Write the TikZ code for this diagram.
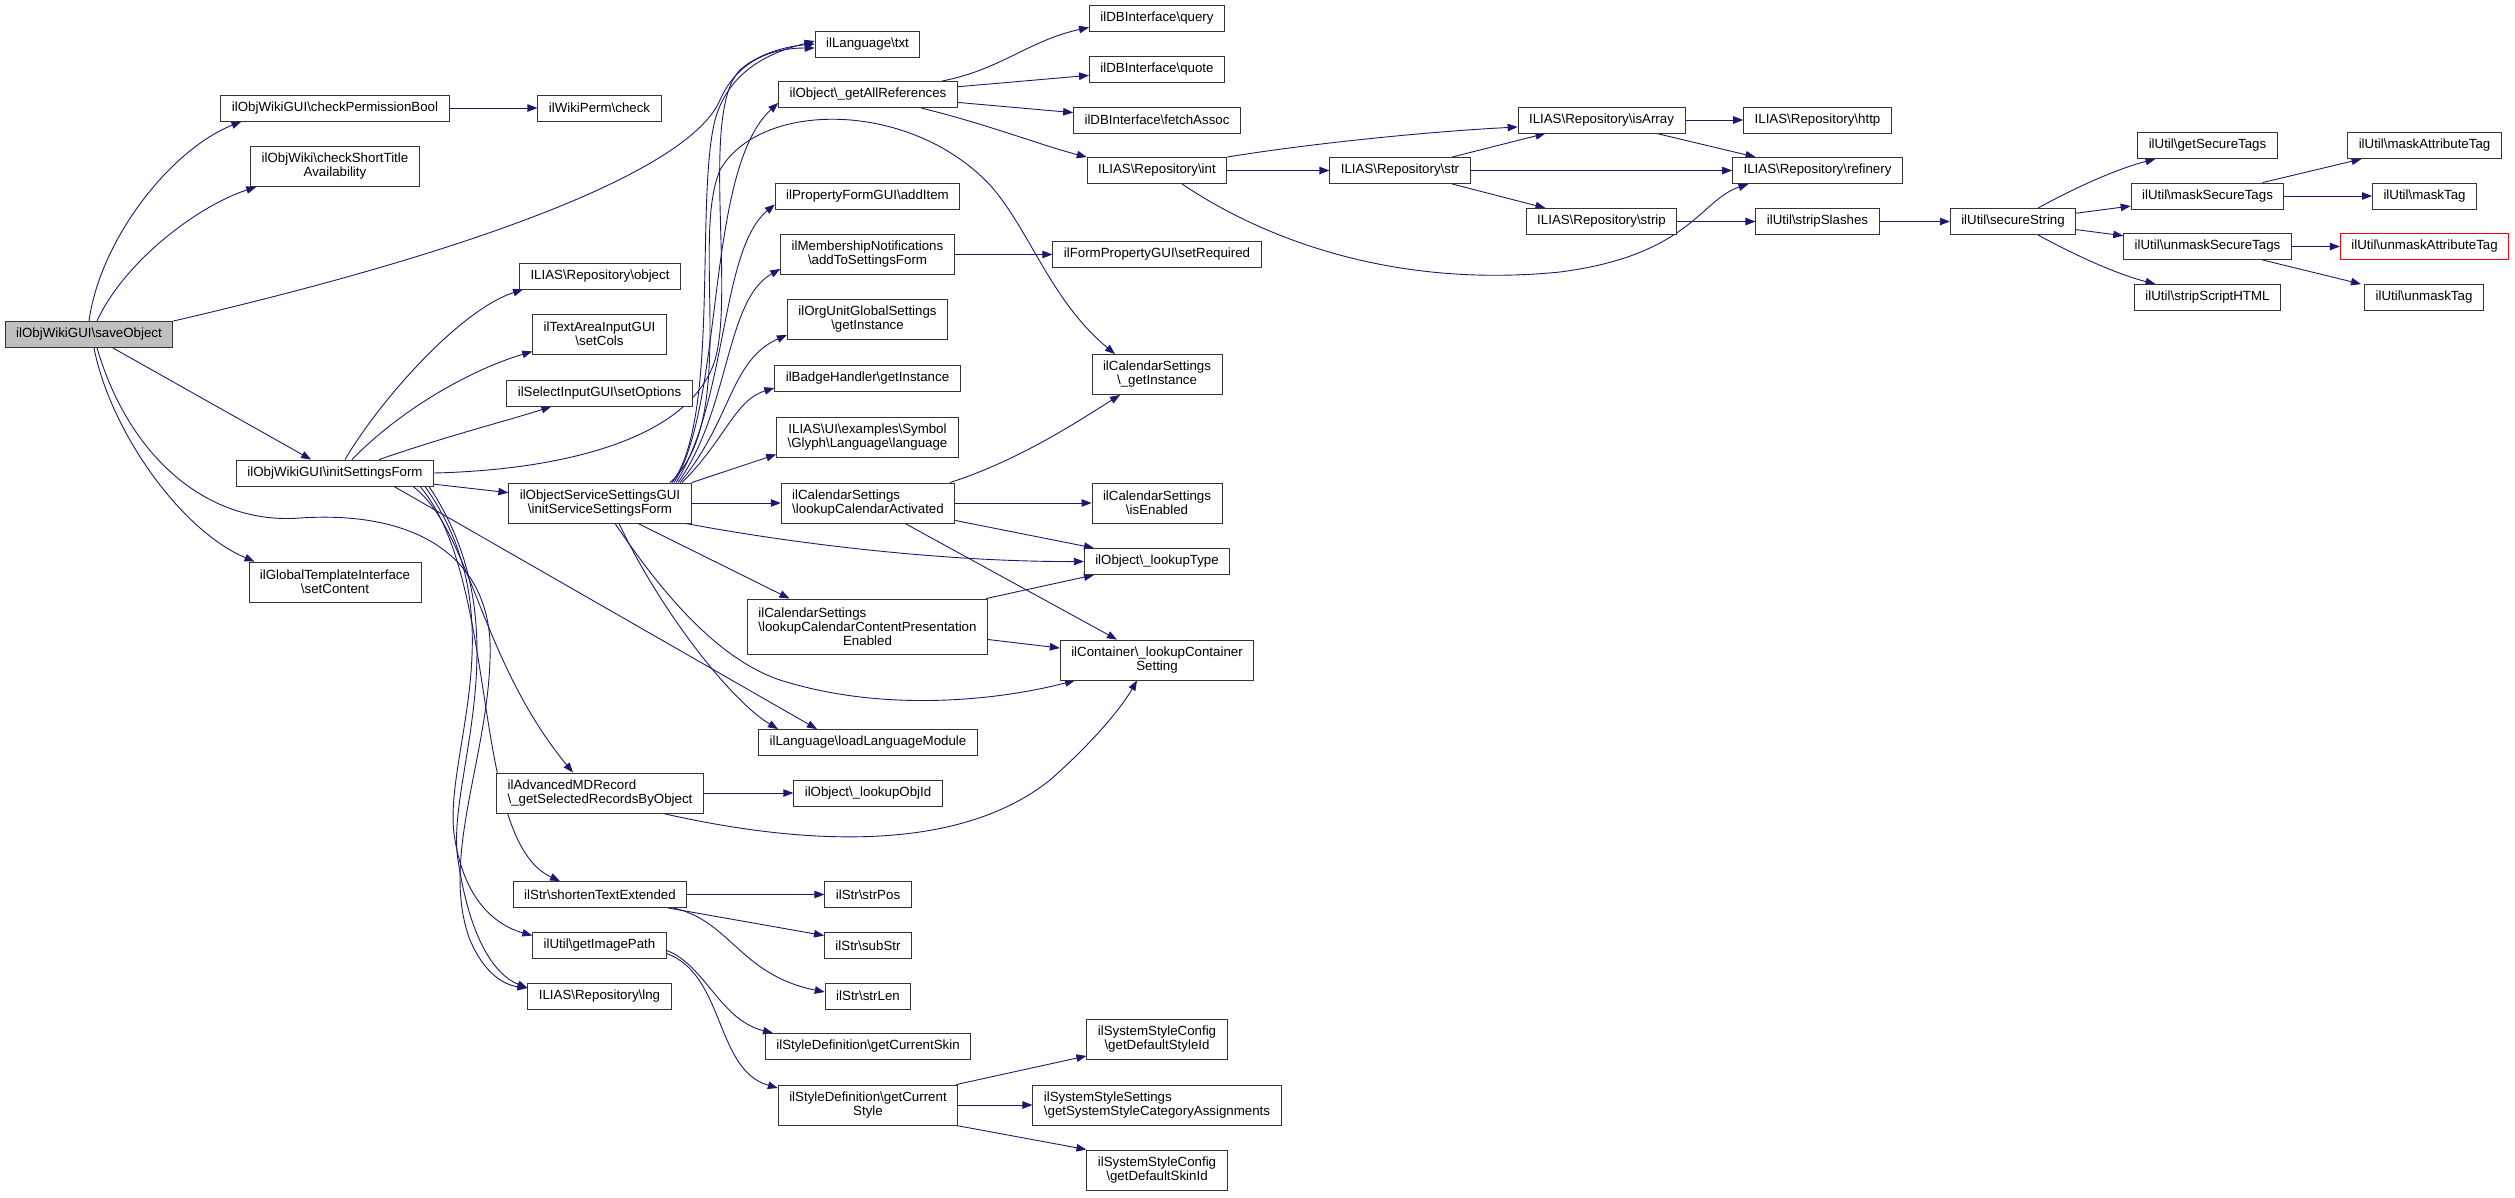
\documentclass[tikz,border=0pt]{standalone}
\usepackage{fontspec}
\setmainfont{Liberation Sans}
\usetikzlibrary{arrows.meta,backgrounds}
\definecolor{edgeblue}{RGB}{25,25,112}
\newcommand{\bsl}{\textbackslash}

\begin{document}
\begin{tikzpicture}[x=1pt,y=-1pt,
  fn/.style={draw=black!80,line width=0.9pt,fill=white,inner xsep=11pt,inner ysep=0pt,
    minimum height=26pt,font=\fontsize{13.3}{14}\selectfont},
  fn2/.style={fn,minimum height=40pt,align=center},
  fn2l/.style={fn,minimum height=40pt,align=left},
  call/.style={draw=edgeblue,line width=0.9pt,-{Triangle[length=10pt,width=7.5pt]}}]
  \useasboundingbox (0,0) rectangle (2515,1197);

  \node[fn,fill=black!25] (save) at (89,334.5) {ilObjWikiGUI\bsl saveObject};
  \node[fn] (perm) at (335,108) {ilObjWikiGUI\bsl checkPermissionBool};
  \node[fn] (wperm) at (599.5,108) {ilWikiPerm\bsl check};
  \node[fn2] (short) at (335,166.5) {ilObjWiki\bsl checkShortTitle\\Availability};
  \node[fn] (init) at (335,473) {ilObjWikiGUI\bsl initSettingsForm};
  \node[fn2] (tpl) at (335,582) {ilGlobalTemplateInterface\\\bsl setContent};

  \node[fn] (robj) at (600,276) {ILIAS\bsl Repository\bsl object};
  \node[fn2] (cols) at (599.5,334) {ilTextAreaInputGUI\\\bsl setCols};
  \node[fn] (opts) at (599.5,393) {ilSelectInputGUI\bsl setOptions};
  \node[fn2] (srv) at (600,503) {ilObjectServiceSettingsGUI\\\bsl initServiceSettingsForm};
  \node[fn2l] (amd) at (600,793) {ilAdvancedMDRecord\\\bsl\_getSelectedRecordsByObject};
  \node[fn] (shorten) at (600,894.5) {ilStr\bsl shortenTextExtended};
  \node[fn] (imgpath) at (599.5,945.5) {ilUtil\bsl getImagePath};
  \node[fn] (rlng) at (599.5,996) {ILIAS\bsl Repository\bsl lng};

  \node[fn] (txt) at (867.5,44) {ilLanguage\bsl txt};
  \node[fn] (allref) at (868,94.5) {ilObject\bsl\_getAllReferences};
  \node[fn] (additem) at (867.5,196) {ilPropertyFormGUI\bsl addItem};
  \node[fn2] (member) at (867.5,254.5) {ilMembershipNotifications\\\bsl addToSettingsForm};
  \node[fn2] (orgunit) at (867.5,319.5) {ilOrgUnitGlobalSettings\\\bsl getInstance};
  \node[fn] (badge) at (867.5,378.5) {ilBadgeHandler\bsl getInstance};
  \node[fn2] (glyph) at (867.5,437) {ILIAS\bsl UI\bsl examples\bsl Symbol\\\bsl Glyph\bsl Language\bsl language};
  \node[fn2l] (calact) at (868,503) {ilCalendarSettings\\\bsl lookupCalendarActivated};
  \node[fn,minimum height=55pt,align=left] (calcont) at (867.5,626.5)
    {ilCalendarSettings\\\bsl lookupCalendarContentPresentation\\\hspace*{\fill}Enabled\hspace*{\fill}};
  \node[fn] (loadlang) at (868,742.5) {ilLanguage\bsl loadLanguageModule};
  \node[fn] (objid) at (868,793) {ilObject\bsl\_lookupObjId};
  \node[fn] (strpos) at (868,894.5) {ilStr\bsl strPos};
  \node[fn] (substr) at (868,945.5) {ilStr\bsl subStr};
  \node[fn] (strlen) at (868,996) {ilStr\bsl strLen};
  \node[fn] (curskin) at (868,1046.5) {ilStyleDefinition\bsl getCurrentSkin};
  \node[fn2] (curstyle) at (868,1105) {ilStyleDefinition\bsl getCurrent\\Style};

  \node[fn] (query) at (1157,18) {ilDBInterface\bsl query};
  \node[fn] (quote) at (1157,69.5) {ilDBInterface\bsl quote};
  \node[fn] (fetch) at (1157,120) {ilDBInterface\bsl fetchAssoc};
  \node[fn] (rint) at (1157,170.5) {ILIAS\bsl Repository\bsl int};
  \node[fn] (setreq) at (1157,254.5) {ilFormPropertyGUI\bsl setRequired};
  \node[fn2] (calinst) at (1157,374.5) {ilCalendarSettings\\\bsl\_getInstance};
  \node[fn2] (calenabled) at (1157,503) {ilCalendarSettings\\\bsl isEnabled};
  \node[fn] (ltype) at (1157,561.5) {ilObject\bsl\_lookupType};
  \node[fn2] (contset) at (1157,660) {ilContainer\bsl\_lookupContainer\\Setting};
  \node[fn2] (defstyle) at (1157,1039.5) {ilSystemStyleConfig\\\bsl getDefaultStyleId};
  \node[fn2l] (catassign) at (1157,1105) {ilSystemStyleSettings\\\bsl getSystemStyleCategoryAssignments};
  \node[fn2] (defskin) at (1157,1170) {ilSystemStyleConfig\\\bsl getDefaultSkinId};

  \node[fn] (rstr) at (1400,170.5) {ILIAS\bsl Repository\bsl str};
  \node[fn] (isarr) at (1601.5,120) {ILIAS\bsl Repository\bsl isArray};
  \node[fn] (http) at (1817.5,120) {ILIAS\bsl Repository\bsl http};
  \node[fn] (refin) at (1817.5,170.5) {ILIAS\bsl Repository\bsl refinery};
  \node[fn] (rstrip) at (1601.5,221.5) {ILIAS\bsl Repository\bsl strip};
  \node[fn] (slashes) at (1817.5,221.5) {ilUtil\bsl stripSlashes};
  \node[fn] (secure) at (2013,221.5) {ilUtil\bsl secureString};
  \node[fn] (gettags) at (2207.5,145.5) {ilUtil\bsl getSecureTags};
  \node[fn] (masktags) at (2207.5,196) {ilUtil\bsl maskSecureTags};
  \node[fn] (unmasktags) at (2207.5,246.5) {ilUtil\bsl unmaskSecureTags};
  \node[fn] (striphtml) at (2207.5,297.5) {ilUtil\bsl stripScriptHTML};
  \node[fn] (maskattr) at (2424.5,145.5) {ilUtil\bsl maskAttributeTag};
  \node[fn] (masktag) at (2424.5,196) {ilUtil\bsl maskTag};
  \node[fn,draw=red] (unmaskattr) at (2424.5,246.5) {ilUtil\bsl unmaskAttributeTag};
  \node[fn] (unmasktag) at (2424,297.5) {ilUtil\bsl unmaskTag};

  \begin{scope}[on background layer]
  \draw[call] (save.north) .. controls (100,240) and (170,150) .. ([xshift=21pt]perm.south west);
  \draw[call] ([xshift=8pt]save.north) .. controls (125,260) and (200,205) .. ([xshift=6pt]short.south west);
  \draw[call] (save.north east) .. controls (480,250) and (690,170) .. (720,100) .. controls (740,55) and (780,48) .. ([yshift=-4pt]txt.west);
  \draw[call] (save) -- (init);
  \draw[call] ([xshift=5pt]save.south) .. controls (110,430) and (180,530) .. ([xshift=6pt]tpl.north west);
  \draw[call] ([xshift=8pt]save.south) .. controls (130,460) and (210,525) .. (300,518) .. controls (420,510) and (495,560) .. (490,660) .. controls (487,760) and (440,860) .. (470,940) .. controls (485,975) and (505,985) .. ([yshift=8pt]rlng.west);

  \draw[call] (perm) -- (wperm);
  \draw[call] ([xshift=10pt]init.north) .. controls (380,400) and (460,310) .. ([xshift=4pt]robj.south west);
  \draw[call] ([xshift=17pt]init.north) .. controls (400,410) and (470,370) .. ([yshift=3pt]cols.south west);
  \draw[call] ([xshift=44pt]init.north) .. controls (450,435) and (510,420) .. ([xshift=45pt]opts.south west);
  \draw[call] (init.east) .. controls (560,470) and (690,440) .. (715,360) .. controls (735,290) and (700,110) .. (740,70) .. controls (760,52) and (790,46) .. (txt.west);
  \draw[call] (init) -- (srv);
  \draw[call] ([xshift=59pt]init.south) -- ([xshift=-51pt]loadlang.north);
  \draw[call] ([xshift=78pt]init.south) .. controls (470,530) and (480,660) .. ([xshift=-27pt]amd.north);
  \draw[call] ([xshift=85pt]init.south) .. controls (500,580) and (470,840) .. ([xshift=-40pt]shorten.north);
  \draw[call] ([xshift=90pt]init.south) .. controls (520,620) and (440,760) .. (455,840) .. controls (465,900) and (495,925) .. ([yshift=10pt]imgpath.west);
  \draw[call] ([xshift=94pt]init.south) .. controls (525,630) and (445,780) .. (458,860) .. controls (470,940) and (495,975) .. ([yshift=8pt]rlng.west);

  \draw[call] ([xshift=72pt]srv.north) .. controls (720,420) and (695,200) .. (715,120) .. controls (730,65) and (780,50) .. ([yshift=3pt]txt.west);
  \draw[call] ([xshift=74pt]srv.north) .. controls (725,400) and (705,170) .. ([yshift=5pt]allref.south west);
  \draw[call] ([xshift=76pt]srv.north) .. controls (728,400) and (720,250) .. ([yshift=5pt]additem.south west);
  \draw[call] ([xshift=78pt]srv.north) .. controls (730,410) and (725,300) .. ([yshift=6pt]member.south west);
  \draw[call] ([xshift=80pt]srv.north) .. controls (732,420) and (730,360) .. ([yshift=5pt]orgunit.south west);
  \draw[call] ([xshift=82pt]srv.north) .. controls (725,440) and (735,400) .. ([yshift=4pt]badge.south west);
  \draw[call] (srv.north east) -- ([yshift=3pt]glyph.south west);
  \draw[call] ([xshift=70pt]srv.north) .. controls (740,420) and (690,240) .. (720,170) .. controls (760,100) and (910,100) .. (990,185) .. controls (1030,230) and (1050,300) .. ([xshift=-42pt]calinst.north);
  \draw[call] (srv) -- (calact);
  \draw[call] ([xshift=-6pt]srv.south east) .. controls (800,545) and (950,562) .. (ltype.west);
  \draw[call] ([xshift=38pt]srv.south) -- ([xshift=-78pt]calcont.north);
  \draw[call] ([xshift=15pt]srv.south) .. controls (660,590) and (720,665) .. (790,683) .. controls (890,712) and (1000,700) .. ([xshift=-82pt]contset.south);
  \draw[call] ([xshift=19pt]srv.south) .. controls (660,610) and (730,700) .. ([xshift=-90pt]loadlang.north);

  \draw[call] ([xshift=-16pt]allref.north east) .. controls (1000,70) and (1030,40) .. ([yshift=4pt]query.south west);
  \draw[call] (allref) -- (quote);
  \draw[call] (allref) -- (fetch);
  \draw[call] ([xshift=53pt]allref.south) .. controls (990,125) and (1040,145) .. (rint.north west);
  \draw[call] (member) -- (setreq);

  \draw[call] (rint) -- (rstr);
  \draw[call] (rint.north east) .. controls (1300,145) and (1420,132) .. ([yshift=-7pt]isarr.west);
  \draw[call] ([xshift=25pt]rint.south) .. controls (1250,230) and (1380,290) .. (1560,272) .. controls (1690,255) and (1700,200) .. ([xshift=-69pt]refin.south);
  \draw[call] ([xshift=52pt]rstr.north) -- ([xshift=-56pt]isarr.south);
  \draw[call] (rstr) -- (refin);
  \draw[call] ([xshift=52pt]rstr.south) -- ([xshift=-56pt]rstrip.north);
  \draw[call] (isarr) -- (http);
  \draw[call] ([xshift=55pt]isarr.south) -- ([xshift=-62pt]refin.north);
  \draw[call] (rstrip) -- (slashes);
  \draw[call] (slashes) -- (secure);
  \draw[call] ([xshift=25pt]secure.north) .. controls (2080,185) and (2120,168) .. ([xshift=-52pt]gettags.south);
  \draw[call] (secure) -- (masktags);
  \draw[call] (secure) -- (unmasktags);
  \draw[call] ([xshift=25pt]secure.south) .. controls (2080,258) and (2120,275) .. ([xshift=-52pt]striphtml.north);
  \draw[call] ([xshift=55pt]masktags.north) -- ([xshift=-63pt]maskattr.south);
  \draw[call] (masktags) -- (masktag);
  \draw[call] (unmasktags) -- (unmaskattr);
  \draw[call] ([xshift=55pt]unmasktags.south) -- ([xshift=-63pt]unmasktag.north);

  \draw[call] ([xshift=82pt]calact.north) .. controls (1020,460) and (1080,420) .. ([xshift=-37pt]calinst.south);
  \draw[call] (calact) -- (calenabled);
  \draw[call] ([yshift=3pt]calact.south east) -- ([xshift=-63pt]ltype.north);
  \draw[call] ([xshift=37pt]calact.south) -- ([xshift=-40pt]contset.north);
  \draw[call] ([xshift=-2pt]calcont.north east) -- ([xshift=-63pt]ltype.south);
  \draw[call] ([yshift=-13pt]calcont.east) -- ([yshift=12pt]contset.west);
  \draw[call] (amd) -- (objid);
  \draw[call] ([xshift=63pt]amd.south) .. controls (780,840) and (950,860) .. (1050,780) .. controls (1090,745) and (1120,710) .. ([xshift=-20pt]contset.south);
  \draw[call] (shorten) -- (strpos);
  \draw[call] ([xshift=68pt]shorten.south) -- ([yshift=10pt]substr.west);
  \draw[call] ([xshift=73pt]shorten.south) .. controls (730,920) and (740,975) .. ([yshift=4pt]strlen.west);
  \draw[call] ([yshift=-5pt]imgpath.east) .. controls (705,965) and (720,1020) .. ([xshift=-95pt]curskin.north);
  \draw[call] ([yshift=-8pt]imgpath.east) .. controls (725,975) and (715,1070) .. ([yshift=17pt]curstyle.west);
  \draw[call] ([xshift=-2pt]curstyle.north east) -- ([yshift=4pt]defstyle.south west);
  \draw[call] (curstyle) -- (catassign);
  \draw[call] ([xshift=-2pt]curstyle.south east) -- (defskin.north west);
  \end{scope}
\end{tikzpicture}
\end{document}
